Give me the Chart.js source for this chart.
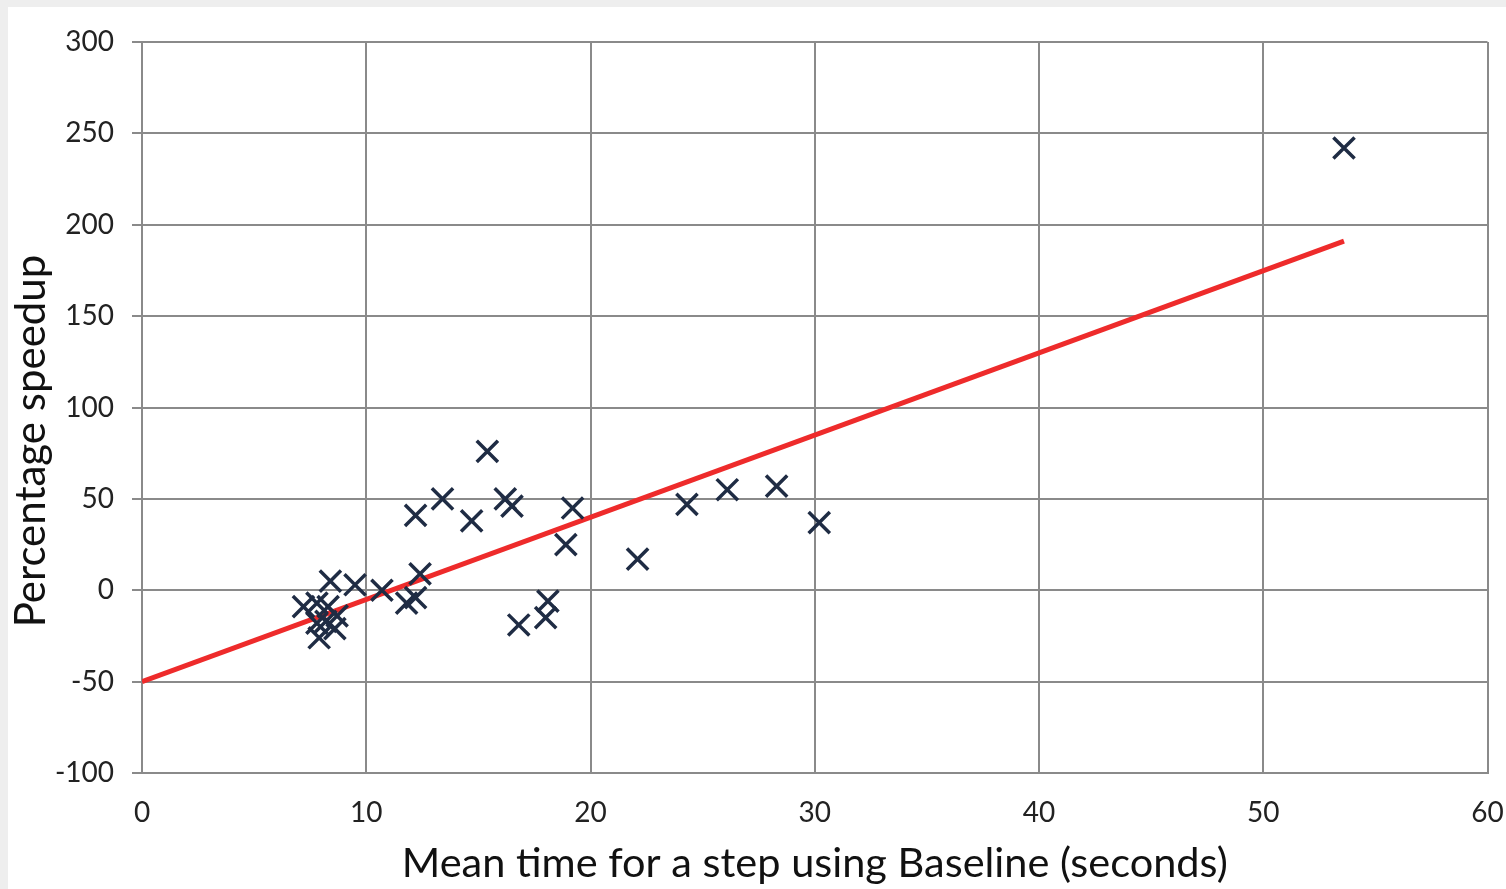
<!DOCTYPE html>
<html>
<head>
<meta charset="utf-8">
<title>Percentage speedup vs baseline step time</title>
<script src="https://cdn.jsdelivr.net/npm/chart.js@4.4.1/dist/chart.umd.min.js"></script>
<style>
    html, body { margin: 0; padding: 0; background: #eeeeee; overflow: hidden; }
    #wrap { position: absolute; left: 8px; top: 7px; width: 1498px; height: 882px; background: #ffffff; }
</style>
</head>
<body>
<div id="wrap"><canvas id="speedupChart"></canvas></div>
<script>
// mean step time with Baseline (seconds) and the measured speedup (%)
const stepTimes = [
    7.2, 7.8, 8.3, 8.7, 7.8, 8.6, 8.2, 7.9, 8.4, 9.5,
    10.7, 12.4, 11.8, 12.2, 12.2, 13.4, 14.7, 15.4, 16.2, 16.5,
    16.8, 18.1, 18.0, 18.9, 19.2, 22.1, 24.3, 26.1, 28.3, 30.2,
    53.6
];
const speedups = [
    -9, -7, -9, -14, -18, -21, -17, -26, 5, 3,
    0, 9, -7, -4, 41, 50, 38, 76, 50, 46,
    -19, -6, -15, 25, 45, 17, 47, 55, 57, 37,
    242
];

// linear fit drawn across the range of the data
const trendX = [0, 53.6];
const trendY = [-50, 191];

const scatterPoints = stepTimes.map((t, i) => ({ x: t, y: speedups[i] }));
const trendPoints = trendX.map((t, i) => ({ x: t, y: trendY[i] }));

const gridGray = '#8a8a8a';
const fontFamily = 'Lato, "DejaVu Sans", sans-serif';

// vertical axis title, placed by hand so it sits a bit lower than the plot centre
const yTitlePlugin = {
    id: 'yTitle',
    afterDraw(chart) {
        const ctx = chart.ctx;
        ctx.save();
        ctx.translate(23, 434);
        ctx.rotate(-Math.PI / 2);
        ctx.font = '42px ' + fontFamily;
        ctx.fillStyle = '#111111';
        ctx.textAlign = 'center';
        ctx.textBaseline = 'middle';
        ctx.fillText('Percentage speedup', 0, 0);
        ctx.restore();
    }
};

const ctx = document.getElementById('speedupChart').getContext('2d');
const speedupChart = new Chart(ctx, {
    type: 'scatter',
    data: {
        datasets: [
            {
                label: 'Trend',
                type: 'line',
                data: trendPoints,
                borderColor: '#ee2b2b',
                borderWidth: 5,
                pointRadius: 0,
                fill: false,
                order: 2
            },
            {
                label: 'Speedup',
                data: scatterPoints,
                pointStyle: 'crossRot',
                pointRadius: 15,
                pointHoverRadius: 15,
                borderColor: '#1f2c44',
                backgroundColor: '#1f2c44',
                pointBorderWidth: 3.5,
                order: 1
            }
        ]
    },
    options: {
        responsive: true,
        maintainAspectRatio: false,
        animation: false,
        layout: { padding: { top: 35, right: 18, left: 0, bottom: 0 } },
        plugins: {
            legend: { display: false },
            tooltip: { enabled: false }
        },
        scales: {
            x: {
                type: 'linear',
                min: 0,
                max: 60,
                afterFit(scale) {
                    scale.height = 116;
                    scale.paddingRight = 0;
                    scale.paddingLeft = 0;
                },
                ticks: {
                    stepSize: 10,
                    padding: 23,
                    color: '#222222',
                    font: { family: fontFamily, size: 28 }
                },
                grid: { color: gridGray, lineWidth: 2, drawTicks: false },
                border: { color: gridGray, width: 2 },
                title: {
                    display: true,
                    text: 'Mean time for a step using Baseline (seconds)',
                    color: '#111111',
                    font: { family: fontFamily, size: 41.5 },
                    padding: { top: 0, bottom: 0 }
                }
            },
            y: {
                type: 'linear',
                min: -100,
                max: 300,
                afterFit(scale) { scale.width = 134; },
                ticks: {
                    stepSize: 50,
                    padding: 18,
                    color: '#222222',
                    font: { family: fontFamily, size: 28 }
                },
                grid: { color: gridGray, lineWidth: 2, tickLength: 10 },
                border: { color: gridGray, width: 2 }
            }
        }
    },
    plugins: [yTitlePlugin]
});
</script>
</body>
</html>
